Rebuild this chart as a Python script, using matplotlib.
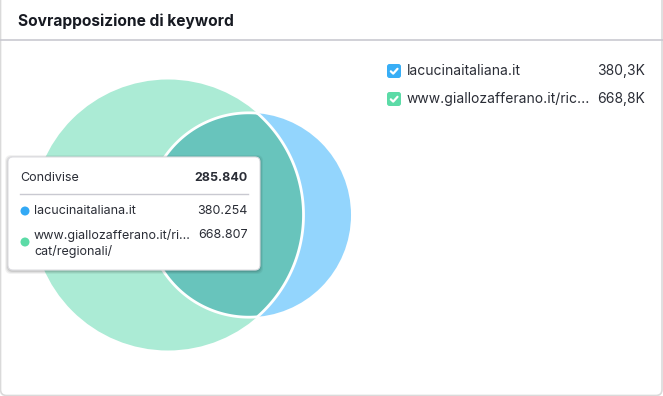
import numpy as np
import matplotlib
matplotlib.use("Agg")
import matplotlib.pyplot as plt
from matplotlib.patches import Circle, FancyBboxPatch
from matplotlib.path import Path
from matplotlib.patches import PathPatch

plt.rcParams['font.family'] = ['Inter', 'DejaVu Sans']

# ---- data ----
title = "Sovrapposizione di keyword"
domains = ["lacucinaitaliana.it", "www.giallozafferano.it/ric..."]
tooltip_domains = ["lacucinaitaliana.it", "www.giallozafferano.it/ri...\ncat/regionali/"]
keywords = [380254, 668807]
shared = 285840
legend_values = ["380,3K", "668,8K"]
tooltip_values = ["380.254", "668.807"]
shared_label = "Condivise"
shared_value = "285.840"
colors = ["#93D5FD", "#ABEBD5"]
overlap_color = "#68C4BC"
check_colors = ["#38AEF6", "#5CDBA7"]

W, H = 663, 396
fig = plt.figure(figsize=(W / 100, H / 100), dpi=100)
ax = fig.add_axes([0, 0, 1, 1])
ax.set_xlim(0, W)
ax.set_ylim(H, 0)
ax.set_aspect('equal')
ax.axis('off')

# card border
ax.add_patch(FancyBboxPatch((0.5, -10), W - 1.5, H - 0.5 + 10,
                            boxstyle="round,pad=0,rounding_size=6",
                            fc="white", ec="#DADADA", lw=1.2, zorder=0))
ax.text(18, 21, title, fontsize=11.2, fontweight='bold', color="#171A22",
        va='center', ha='left')
ax.plot([0, W], [40, 40], color="#C9C9D1", lw=1.2, zorder=1)

# ---- venn geometry from data ----
scale = 135.5 / np.sqrt(max(keywords))
r_small = scale * np.sqrt(keywords[0])
r_big = scale * np.sqrt(keywords[1])
shared_area = np.pi * shared * scale ** 2


def overlap(d, r1, r2):
    if d >= r1 + r2:
        return 0.0
    if d <= abs(r1 - r2):
        return np.pi * min(r1, r2) ** 2
    a1 = r1 ** 2 * np.arccos((d ** 2 + r1 ** 2 - r2 ** 2) / (2 * d * r1))
    a2 = r2 ** 2 * np.arccos((d ** 2 + r2 ** 2 - r1 ** 2) / (2 * d * r2))
    a3 = 0.5 * np.sqrt((-d + r1 + r2) * (d + r1 - r2) * (d - r1 + r2) * (d + r1 + r2))
    return a1 + a2 - a3


lo, hi = abs(r_big - r_small), r_big + r_small
for _ in range(100):
    mid = (lo + hi) / 2
    if overlap(mid, r_big, r_small) > shared_area:
        lo = mid
    else:
        hi = mid
d = (lo + hi) / 2

cy = 215
cx_big = 168
cx_small = cx_big + d

big = Circle((cx_big, cy), r_big, fc=colors[1], ec='none', zorder=2)
small = Circle((cx_small, cy), r_small, fc=colors[0], ec='none', zorder=2)
ax.add_patch(big)
ax.add_patch(small)

# overlap lens
xi = (d ** 2 - r_small ** 2 + r_big ** 2) / (2 * d)
yi = np.sqrt(max(r_big ** 2 - xi ** 2, 0))
a_big = np.arctan2(yi, xi)
t1 = np.linspace(-a_big, a_big, 300)
px1 = cx_big + r_big * np.cos(t1)
py1 = cy + r_big * np.sin(t1)
a_s = np.arctan2(yi, xi - d)
t2 = np.linspace(a_s, 2 * np.pi - a_s, 300)
px2 = cx_small + r_small * np.cos(t2)
py2 = cy + r_small * np.sin(t2)
verts = np.concatenate([np.column_stack([px1, py1]), np.column_stack([px2, py2])])
lens = PathPatch(Path(verts, closed=False), fc=overlap_color, ec='white', lw=2, zorder=3)
ax.add_patch(lens)

# ---- legend ----
leg_y = [71, 99]
for i in range(2):
    ax.add_patch(FancyBboxPatch((387, leg_y[i] - 7), 14, 14,
                                boxstyle="round,pad=0,rounding_size=2.5",
                                fc=check_colors[i], ec='none', zorder=4))
    ax.plot([390.8, 393.2, 397.5], [leg_y[i] + 0.3, leg_y[i] + 2.6, leg_y[i] - 2.2],
            color='white', lw=1.6, solid_capstyle='round', solid_joinstyle='round', zorder=5)
    ax.text(407, leg_y[i], domains[i], fontsize=10, color="#2A2D36", va='center', ha='left')
    ax.text(645, leg_y[i], legend_values[i], fontsize=10, color="#2A2D36", va='center', ha='right')

# ---- tooltip ----
tx0, ty0, tw, th = 8, 157, 252, 113
for k, a in [(3, 0.05), (2, 0.07), (1, 0.09)]:
    ax.add_patch(FancyBboxPatch((tx0 - k, ty0 - k + 1), tw + 2 * k, th + 2 * k,
                                boxstyle="round,pad=0,rounding_size=6",
                                fc='#000000', ec='none', alpha=a, zorder=6))
ax.add_patch(FancyBboxPatch((tx0, ty0), tw, th,
                            boxstyle="round,pad=0,rounding_size=5",
                            fc='white', ec='#DDDDE2', lw=0.8, zorder=7))
ax.text(20, 178, shared_label, fontsize=9, color="#2A2D36", va='center', ha='left', zorder=8)
ax.text(248, 178, shared_value, fontsize=9, fontweight='bold', color="#2A2D36",
        va='center', ha='right', zorder=8)
ax.plot([20, 248], [194, 194], color="#C9C9D1", lw=1, zorder=8)
row_y = [211, 235]
dot_y = [211, 242]
dot_colors = ["#33A9F5", "#5CDBA7"]
for i in range(2):
    ax.add_patch(Circle((25, dot_y[i]), 4.5, fc=dot_colors[i], ec='none', zorder=8))
    ax.text(34, row_y[i] - 6.5 if i == 1 else row_y[i], tooltip_domains[i], fontsize=9,
            color="#2A2D36", va='top' if i == 1 else 'center', ha='left', zorder=8,
            linespacing=1.35)
    ax.text(248, row_y[i], tooltip_values[i], fontsize=9, color="#2A2D36",
            va='center', ha='right', zorder=8)

fig.savefig("out.png", dpi=100)
